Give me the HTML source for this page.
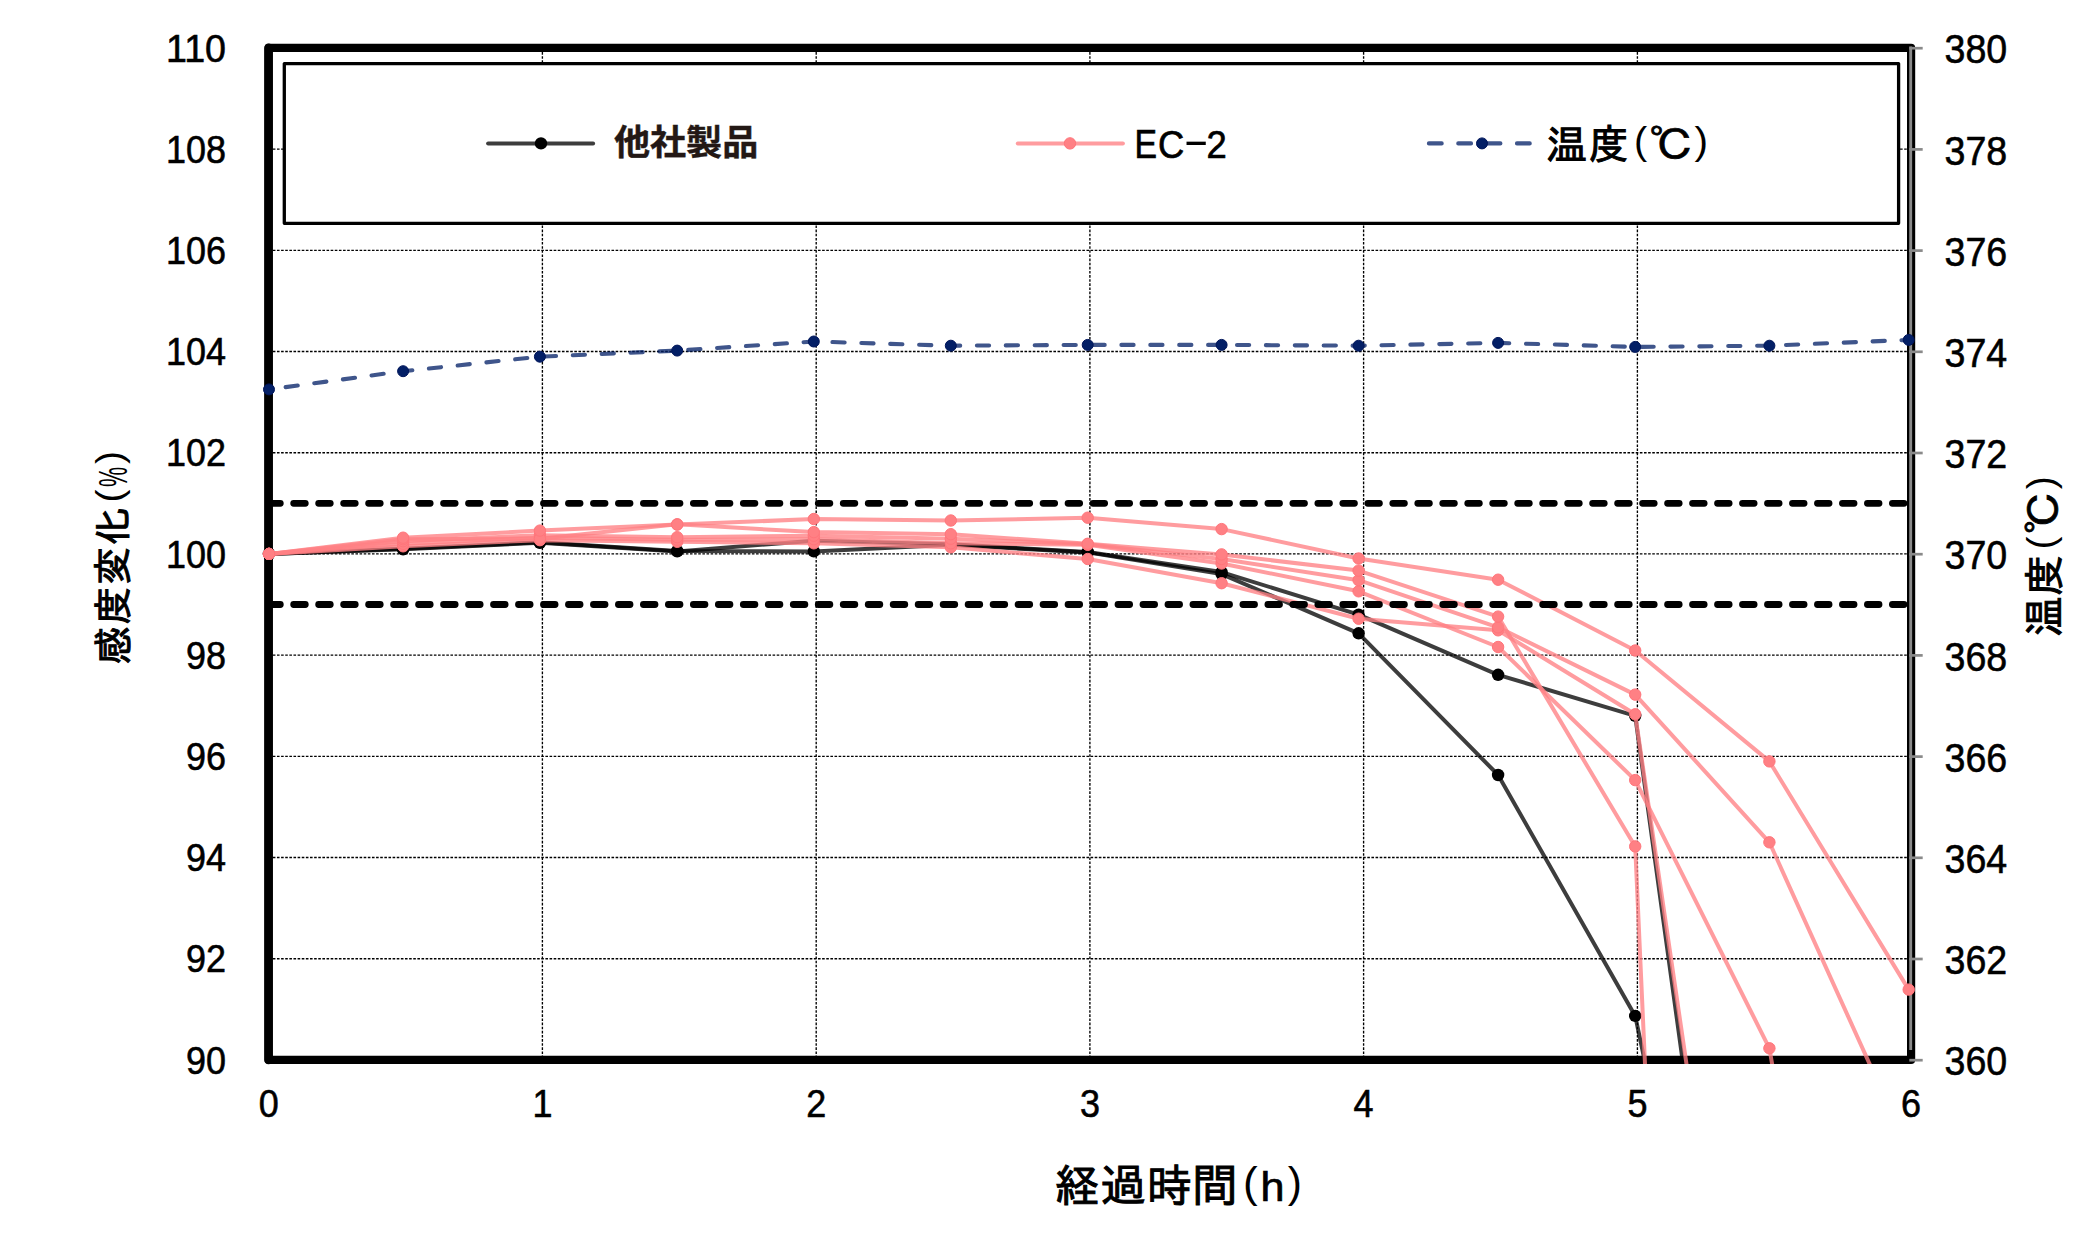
<!DOCTYPE html>
<html lang="ja"><head><meta charset="utf-8"><title>感度変化(%)・温度(℃) – 経過時間(h)</title>
<style>
html,body{margin:0;padding:0;background:#fff;}
body{width:2076px;height:1240px;overflow:hidden;}
svg{display:block;}
text{font-family:"Liberation Sans","IPAGothic","Noto Sans CJK JP",sans-serif;fill:#000;}
.tick{font-size:38.8px;stroke:#000;stroke-width:0.6px;}
.jp{font-family:"Liberation Sans","IPAGothic","Noto Sans CJK JP",sans-serif;}
.bold{font-family:"Liberation Sans","Noto Sans CJK JP",sans-serif;font-weight:700;fill:#231815;}
.grid line{stroke:#000;stroke-width:1.35;stroke-dasharray:2.6 1.53;}
.pl{fill:none;stroke:#ff8084;stroke-opacity:.78;stroke-width:4;stroke-linejoin:round;stroke-linecap:round;}
.bl{fill:none;stroke:#000;stroke-opacity:.76;stroke-width:4;stroke-linejoin:round;stroke-linecap:round;}
.pm{fill:#ff8084;stroke:#ff757b;stroke-width:1;}
.bm{fill:#000;}
.tm{fill:#031f66;stroke:#00155a;stroke-width:1;}
</style></head><body>
<svg width="2076" height="1240" viewBox="0 0 2076 1240">
<rect width="2076" height="1240" fill="#fff"/>
<defs><clipPath id="plot"><rect x="260.7" y="47.9" width="1658.4" height="1016.1"/></clipPath></defs>
<g class="grid">
<line x1="268.7" y1="149.1" x2="1911.1" y2="149.1"/>
<line x1="268.7" y1="250.3" x2="1911.1" y2="250.3"/>
<line x1="268.7" y1="351.5" x2="1911.1" y2="351.5"/>
<line x1="268.7" y1="452.7" x2="1911.1" y2="452.7"/>
<line x1="268.7" y1="553.9" x2="1911.1" y2="553.9"/>
<line x1="268.7" y1="655.1" x2="1911.1" y2="655.1"/>
<line x1="268.7" y1="756.3" x2="1911.1" y2="756.3"/>
<line x1="268.7" y1="857.5" x2="1911.1" y2="857.5"/>
<line x1="268.7" y1="958.7" x2="1911.1" y2="958.7"/>
<line x1="542.4" y1="47.9" x2="542.4" y2="1059.9"/>
<line x1="816.2" y1="47.9" x2="816.2" y2="1059.9"/>
<line x1="1089.9" y1="47.9" x2="1089.9" y2="1059.9"/>
<line x1="1363.6" y1="47.9" x2="1363.6" y2="1059.9"/>
<line x1="1637.4" y1="47.9" x2="1637.4" y2="1059.9"/>
</g>
<rect x="268.7" y="47.9" width="1642.4" height="1012" fill="none" stroke="#000" stroke-width="8.2" stroke-linejoin="round"/>
<line x1="268.5" y1="47.9" x2="268.5" y2="1059.9" stroke="#000" stroke-width="8.6" stroke-linecap="round"/>
<line x1="1910.7" y1="46.6" x2="1910.7" y2="1049.9" stroke="#8a8a8a" stroke-width="2.9"/>
<line x1="1909.3" y1="48.2" x2="1922.7" y2="48.2" stroke="#8a8a8a" stroke-width="2.7"/>
<line x1="1909.3" y1="149.4" x2="1922.7" y2="149.4" stroke="#8a8a8a" stroke-width="2.7"/>
<line x1="1909.3" y1="250.6" x2="1922.7" y2="250.6" stroke="#8a8a8a" stroke-width="2.7"/>
<line x1="1909.3" y1="351.8" x2="1922.7" y2="351.8" stroke="#8a8a8a" stroke-width="2.7"/>
<line x1="1909.3" y1="453" x2="1922.7" y2="453" stroke="#8a8a8a" stroke-width="2.7"/>
<line x1="1909.3" y1="554.2" x2="1922.7" y2="554.2" stroke="#8a8a8a" stroke-width="2.7"/>
<line x1="1909.3" y1="655.4" x2="1922.7" y2="655.4" stroke="#8a8a8a" stroke-width="2.7"/>
<line x1="1909.3" y1="756.6" x2="1922.7" y2="756.6" stroke="#8a8a8a" stroke-width="2.7"/>
<line x1="1909.3" y1="857.8" x2="1922.7" y2="857.8" stroke="#8a8a8a" stroke-width="2.7"/>
<line x1="1909.3" y1="959" x2="1922.7" y2="959" stroke="#8a8a8a" stroke-width="2.7"/>
<line x1="1909.3" y1="1060.2" x2="1922.7" y2="1060.2" stroke="#8a8a8a" stroke-width="2.7"/>
<rect x="284.3" y="63.6" width="1614.3" height="159.7" fill="#fff" stroke="#000" stroke-width="3.3" stroke-linejoin="round"/>
<g clip-path="url(#plot)">
<polyline class="bl" points="269,553.9 403.1,549.3 539.9,542.8 677.2,551.4 813.8,540.7 950.8,544.3 1087.7,551.9 1221.6,572.1 1358.6,614.6 1498.1,674.8 1635.2,715.8 1684.6,1075"/>
<polyline class="bl" points="269,553.9 403.1,548.8 539.9,542.3 677.2,550.9 813.8,551.4 950.8,544.8 1087.7,552.4 1221.6,574.1 1358.6,633.3 1498.1,775 1635.2,1015.9 1647.7,1075"/>
<circle class="bm" cx="269" cy="553.9" r="6.2"/>
<circle class="bm" cx="403.1" cy="549.3" r="6.2"/>
<circle class="bm" cx="539.9" cy="542.8" r="6.2"/>
<circle class="bm" cx="677.2" cy="551.4" r="6.2"/>
<circle class="bm" cx="813.8" cy="540.7" r="6.2"/>
<circle class="bm" cx="950.8" cy="544.3" r="6.2"/>
<circle class="bm" cx="1087.7" cy="551.9" r="6.2"/>
<circle class="bm" cx="1221.6" cy="572.1" r="6.2"/>
<circle class="bm" cx="1358.6" cy="614.6" r="6.2"/>
<circle class="bm" cx="1498.1" cy="674.8" r="6.2"/>
<circle class="bm" cx="1635.2" cy="715.8" r="6.2"/>
<circle class="bm" cx="269" cy="553.9" r="6.2"/>
<circle class="bm" cx="403.1" cy="548.8" r="6.2"/>
<circle class="bm" cx="539.9" cy="542.3" r="6.2"/>
<circle class="bm" cx="677.2" cy="550.9" r="6.2"/>
<circle class="bm" cx="813.8" cy="551.4" r="6.2"/>
<circle class="bm" cx="950.8" cy="544.8" r="6.2"/>
<circle class="bm" cx="1087.7" cy="552.4" r="6.2"/>
<circle class="bm" cx="1221.6" cy="574.1" r="6.2"/>
<circle class="bm" cx="1358.6" cy="633.3" r="6.2"/>
<circle class="bm" cx="1498.1" cy="775" r="6.2"/>
<circle class="bm" cx="1635.2" cy="1015.9" r="6.2"/>
<polyline class="pl" points="269,553.9 403.1,546.3 539.9,540.2 677.2,541.8 813.8,543.3 950.8,547.3 1087.7,559 1221.6,583.2 1358.6,618.7 1498.1,630.3 1635.2,714.3 1688.1,1075"/>
<circle class="pm" cx="269" cy="553.9" r="5.7"/>
<circle class="pm" cx="403.1" cy="546.3" r="5.7"/>
<circle class="pm" cx="539.9" cy="540.2" r="5.7"/>
<circle class="pm" cx="677.2" cy="541.8" r="5.7"/>
<circle class="pm" cx="813.8" cy="543.3" r="5.7"/>
<circle class="pm" cx="950.8" cy="547.3" r="5.7"/>
<circle class="pm" cx="1087.7" cy="559" r="5.7"/>
<circle class="pm" cx="1221.6" cy="583.2" r="5.7"/>
<circle class="pm" cx="1358.6" cy="618.7" r="5.7"/>
<circle class="pm" cx="1498.1" cy="630.3" r="5.7"/>
<circle class="pm" cx="1635.2" cy="714.3" r="5.7"/>
<polyline class="pl" points="269,553.9 403.1,543.8 539.9,537.7 677.2,539.7 813.8,539.2 950.8,543.3 1087.7,544.8 1221.6,563.5 1358.6,591.3 1498.1,647 1635.2,780.1 1769.4,1048.3 1774,1075"/>
<circle class="pm" cx="269" cy="553.9" r="5.7"/>
<circle class="pm" cx="403.1" cy="543.8" r="5.7"/>
<circle class="pm" cx="539.9" cy="537.7" r="5.7"/>
<circle class="pm" cx="677.2" cy="539.7" r="5.7"/>
<circle class="pm" cx="813.8" cy="539.2" r="5.7"/>
<circle class="pm" cx="950.8" cy="543.3" r="5.7"/>
<circle class="pm" cx="1087.7" cy="544.8" r="5.7"/>
<circle class="pm" cx="1221.6" cy="563.5" r="5.7"/>
<circle class="pm" cx="1358.6" cy="591.3" r="5.7"/>
<circle class="pm" cx="1498.1" cy="647" r="5.7"/>
<circle class="pm" cx="1635.2" cy="780.1" r="5.7"/>
<circle class="pm" cx="1769.4" cy="1048.3" r="5.7"/>
<polyline class="pl" points="269,553.9 403.1,541.2 539.9,535.2 677.2,537.2 813.8,535.7 950.8,538.7 1087.7,544.3 1221.6,559 1358.6,580.2 1498.1,627.3 1635.2,694.6 1769.4,842.3 1874.6,1075"/>
<circle class="pm" cx="269" cy="553.9" r="5.7"/>
<circle class="pm" cx="403.1" cy="541.2" r="5.7"/>
<circle class="pm" cx="539.9" cy="535.2" r="5.7"/>
<circle class="pm" cx="677.2" cy="537.2" r="5.7"/>
<circle class="pm" cx="813.8" cy="535.7" r="5.7"/>
<circle class="pm" cx="950.8" cy="538.7" r="5.7"/>
<circle class="pm" cx="1087.7" cy="544.3" r="5.7"/>
<circle class="pm" cx="1221.6" cy="559" r="5.7"/>
<circle class="pm" cx="1358.6" cy="580.2" r="5.7"/>
<circle class="pm" cx="1498.1" cy="627.3" r="5.7"/>
<circle class="pm" cx="1635.2" cy="694.6" r="5.7"/>
<circle class="pm" cx="1769.4" cy="842.3" r="5.7"/>
<polyline class="pl" points="269,553.9 403.1,539.2 539.9,538.7 677.2,524.3 813.8,532.1 950.8,534.2 1087.7,543.8 1221.6,554.4 1358.6,570.6 1498.1,616.6 1635.2,846.4 1645.5,1075"/>
<circle class="pm" cx="269" cy="553.9" r="5.7"/>
<circle class="pm" cx="403.1" cy="539.2" r="5.7"/>
<circle class="pm" cx="539.9" cy="538.7" r="5.7"/>
<circle class="pm" cx="677.2" cy="524.3" r="5.7"/>
<circle class="pm" cx="813.8" cy="532.1" r="5.7"/>
<circle class="pm" cx="950.8" cy="534.2" r="5.7"/>
<circle class="pm" cx="1087.7" cy="543.8" r="5.7"/>
<circle class="pm" cx="1221.6" cy="554.4" r="5.7"/>
<circle class="pm" cx="1358.6" cy="570.6" r="5.7"/>
<circle class="pm" cx="1498.1" cy="616.6" r="5.7"/>
<circle class="pm" cx="1635.2" cy="846.4" r="5.7"/>
<polyline class="pl" points="269,553.9 403.1,537.7 539.9,530.6 677.2,524.6 813.8,519 950.8,520.5 1087.7,517.7 1221.6,529.1 1358.6,558.5 1498.1,579.7 1635.2,650.5 1769.4,761.4 1908.7,989.6"/>
<circle class="pm" cx="269" cy="553.9" r="5.7"/>
<circle class="pm" cx="403.1" cy="537.7" r="5.7"/>
<circle class="pm" cx="539.9" cy="530.6" r="5.7"/>
<circle class="pm" cx="677.2" cy="524.6" r="5.7"/>
<circle class="pm" cx="813.8" cy="519" r="5.7"/>
<circle class="pm" cx="950.8" cy="520.5" r="5.7"/>
<circle class="pm" cx="1087.7" cy="517.7" r="5.7"/>
<circle class="pm" cx="1221.6" cy="529.1" r="5.7"/>
<circle class="pm" cx="1358.6" cy="558.5" r="5.7"/>
<circle class="pm" cx="1498.1" cy="579.7" r="5.7"/>
<circle class="pm" cx="1635.2" cy="650.5" r="5.7"/>
<circle class="pm" cx="1769.4" cy="761.4" r="5.7"/>
<circle class="pm" cx="1908.7" cy="989.6" r="5.7"/>
</g>
<line x1="268.7" y1="503.3" x2="1907.1" y2="503.3" stroke="#000" stroke-width="6.8" stroke-linecap="round" stroke-dasharray="11.6 13.38"/>
<line x1="268.7" y1="604.5" x2="1907.1" y2="604.5" stroke="#000" stroke-width="6.8" stroke-linecap="round" stroke-dasharray="11.6 13.38"/>
<polyline points="269,389.4 403.1,371.2 539.9,356.7 677.2,350.6 813.8,341.5 950.8,345.7 1087.7,344.9 1221.6,344.9 1358.6,345.7 1498.1,342.9 1635.2,346.9 1769.4,345.7 1908.7,339.9" fill="none" stroke="#031f66" stroke-opacity=".76" stroke-width="4.1" stroke-linecap="round" stroke-linejoin="round" stroke-dasharray="12.2 16.7" stroke-dashoffset="12.1"/>
<circle class="tm" cx="269" cy="389.4" r="5.5"/>
<circle class="tm" cx="403.1" cy="371.2" r="5.5"/>
<circle class="tm" cx="539.9" cy="356.7" r="5.5"/>
<circle class="tm" cx="677.2" cy="350.6" r="5.5"/>
<circle class="tm" cx="813.8" cy="341.5" r="5.5"/>
<circle class="tm" cx="950.8" cy="345.7" r="5.5"/>
<circle class="tm" cx="1087.7" cy="344.9" r="5.5"/>
<circle class="tm" cx="1221.6" cy="344.9" r="5.5"/>
<circle class="tm" cx="1358.6" cy="345.7" r="5.5"/>
<circle class="tm" cx="1498.1" cy="342.9" r="5.5"/>
<circle class="tm" cx="1635.2" cy="346.9" r="5.5"/>
<circle class="tm" cx="1769.4" cy="345.7" r="5.5"/>
<circle class="tm" cx="1908.7" cy="339.9" r="5.5"/>
<line x1="488.1" y1="143.4" x2="593.1" y2="143.4" class="bl"/>
<circle class="bm" cx="541" cy="143.4" r="6.2"/>
<text class="bold" x="613.9" y="155.3" font-size="35.3" stroke="#231815" stroke-width="0.4" textLength="144.4" lengthAdjust="spacingAndGlyphs">他社製品</text>
<line x1="1017.8" y1="143.4" x2="1122.9" y2="143.4" class="pl"/>
<circle class="pm" cx="1070" cy="143.4" r="5.7"/>
<text><tspan x="1134.38" y="157.65" font-size="39.83" textLength="22.52" lengthAdjust="spacingAndGlyphs" stroke="#000" stroke-width="0.7">E</tspan><tspan x="1158.11" y="157.66" font-size="39.69" textLength="26.23" lengthAdjust="spacingAndGlyphs" stroke="#000" stroke-width="0.7">C</tspan><tspan x="1182.99" y="155.47" font-size="42.24" textLength="26.33" lengthAdjust="spacingAndGlyphs">-</tspan><tspan x="1206.42" y="157.65" font-size="39.53" textLength="20.27" lengthAdjust="spacingAndGlyphs" stroke="#000" stroke-width="0.7">2</tspan></text>
<line x1="1428.9" y1="143.4" x2="1529.8" y2="143.4" stroke="#031f66" stroke-opacity=".76" stroke-width="4.1" stroke-linecap="round" stroke-dasharray="12.8 16.55"/>
<circle class="tm" cx="1482" cy="143.4" r="5.5"/>
<text class="jp"><tspan x="1546.02" y="159.17" font-size="40.16" textLength="41.36" lengthAdjust="spacingAndGlyphs" stroke="#000" stroke-width="1">温</tspan><tspan x="1589.01" y="159.35" font-size="40.89" textLength="40.26" lengthAdjust="spacingAndGlyphs" stroke="#000" stroke-width="1">度</tspan><tspan x="1634.04" y="154.09" font-size="38.21" textLength="13.19" lengthAdjust="spacingAndGlyphs">(</tspan><tspan x="1649.26" y="159.97" font-size="41.26" textLength="45.13" lengthAdjust="spacingAndGlyphs" stroke="#000" stroke-width="0.8">℃</tspan><tspan x="1694.46" y="154.09" font-size="38.21" textLength="13.56" lengthAdjust="spacingAndGlyphs">)</tspan></text>
<text class="tick" x="226" y="61.6" text-anchor="end" textLength="60" lengthAdjust="spacingAndGlyphs">110</text>
<text class="tick" style="font-size:41px" x="1944.5" y="63.3" text-anchor="start" textLength="62.7" lengthAdjust="spacingAndGlyphs">380</text>
<text class="tick" x="226" y="162.8" text-anchor="end" textLength="60" lengthAdjust="spacingAndGlyphs">108</text>
<text class="tick" style="font-size:41px" x="1944.5" y="164.5" text-anchor="start" textLength="62.7" lengthAdjust="spacingAndGlyphs">378</text>
<text class="tick" x="226" y="264" text-anchor="end" textLength="60" lengthAdjust="spacingAndGlyphs">106</text>
<text class="tick" style="font-size:41px" x="1944.5" y="265.7" text-anchor="start" textLength="62.7" lengthAdjust="spacingAndGlyphs">376</text>
<text class="tick" x="226" y="365.2" text-anchor="end" textLength="60" lengthAdjust="spacingAndGlyphs">104</text>
<text class="tick" style="font-size:41px" x="1944.5" y="366.9" text-anchor="start" textLength="62.7" lengthAdjust="spacingAndGlyphs">374</text>
<text class="tick" x="226" y="466.4" text-anchor="end" textLength="60" lengthAdjust="spacingAndGlyphs">102</text>
<text class="tick" style="font-size:41px" x="1944.5" y="468.1" text-anchor="start" textLength="62.7" lengthAdjust="spacingAndGlyphs">372</text>
<text class="tick" x="226" y="567.6" text-anchor="end" textLength="60" lengthAdjust="spacingAndGlyphs">100</text>
<text class="tick" style="font-size:41px" x="1944.5" y="569.3" text-anchor="start" textLength="62.7" lengthAdjust="spacingAndGlyphs">370</text>
<text class="tick" x="226" y="668.8" text-anchor="end" textLength="40" lengthAdjust="spacingAndGlyphs">98</text>
<text class="tick" style="font-size:41px" x="1944.5" y="670.5" text-anchor="start" textLength="62.7" lengthAdjust="spacingAndGlyphs">368</text>
<text class="tick" x="226" y="770" text-anchor="end" textLength="40" lengthAdjust="spacingAndGlyphs">96</text>
<text class="tick" style="font-size:41px" x="1944.5" y="771.7" text-anchor="start" textLength="62.7" lengthAdjust="spacingAndGlyphs">366</text>
<text class="tick" x="226" y="871.2" text-anchor="end" textLength="40" lengthAdjust="spacingAndGlyphs">94</text>
<text class="tick" style="font-size:41px" x="1944.5" y="872.9" text-anchor="start" textLength="62.7" lengthAdjust="spacingAndGlyphs">364</text>
<text class="tick" x="226" y="972.4" text-anchor="end" textLength="40" lengthAdjust="spacingAndGlyphs">92</text>
<text class="tick" style="font-size:41px" x="1944.5" y="974.1" text-anchor="start" textLength="62.7" lengthAdjust="spacingAndGlyphs">362</text>
<text class="tick" x="226" y="1073.6" text-anchor="end" textLength="40" lengthAdjust="spacingAndGlyphs">90</text>
<text class="tick" style="font-size:41px" x="1944.5" y="1075.3" text-anchor="start" textLength="62.7" lengthAdjust="spacingAndGlyphs">360</text>
<text class="tick" x="268.7" y="1116.6" text-anchor="middle" textLength="20" lengthAdjust="spacingAndGlyphs">0</text>
<text class="tick" x="542.4" y="1116.6" text-anchor="middle" textLength="20" lengthAdjust="spacingAndGlyphs">1</text>
<text class="tick" x="816.2" y="1116.6" text-anchor="middle" textLength="20" lengthAdjust="spacingAndGlyphs">2</text>
<text class="tick" x="1089.9" y="1116.6" text-anchor="middle" textLength="20" lengthAdjust="spacingAndGlyphs">3</text>
<text class="tick" x="1363.6" y="1116.6" text-anchor="middle" textLength="20" lengthAdjust="spacingAndGlyphs">4</text>
<text class="tick" x="1637.4" y="1116.6" text-anchor="middle" textLength="20" lengthAdjust="spacingAndGlyphs">5</text>
<text class="tick" x="1911.1" y="1116.6" text-anchor="middle" textLength="20" lengthAdjust="spacingAndGlyphs">6</text>
<text class="jp"><tspan x="1054.45" y="1201.97" font-size="44.80" textLength="45.17" lengthAdjust="spacingAndGlyphs" stroke="#000" stroke-width="1">経</tspan><tspan x="1100.14" y="1201.41" font-size="44.31" textLength="45.78" lengthAdjust="spacingAndGlyphs" stroke="#000" stroke-width="1">過</tspan><tspan x="1146.75" y="1201.97" font-size="44.89" textLength="45.04" lengthAdjust="spacingAndGlyphs" stroke="#000" stroke-width="1">時</tspan><tspan x="1191.90" y="1201.90" font-size="45.78" textLength="46.23" lengthAdjust="spacingAndGlyphs" stroke="#000" stroke-width="1">間</tspan><tspan x="1242.96" y="1196.54" font-size="42.29" textLength="14.70" lengthAdjust="spacingAndGlyphs">(</tspan><tspan x="1260.56" y="1200.65" font-size="41.54" textLength="23.99" lengthAdjust="spacingAndGlyphs" stroke="#000" stroke-width="0.7">h</tspan><tspan x="1287.65" y="1196.54" font-size="42.29" textLength="14.19" lengthAdjust="spacingAndGlyphs">)</tspan></text>
<text class="jp" transform="rotate(-90)"><tspan x="-664.88" y="127.64" font-size="40.17" textLength="38.77" lengthAdjust="spacingAndGlyphs" stroke="#000" stroke-width="1">感</tspan><tspan x="-624.51" y="127.39" font-size="39.02" textLength="38.34" lengthAdjust="spacingAndGlyphs" stroke="#000" stroke-width="1">度</tspan><tspan x="-584.49" y="127.17" font-size="39.62" textLength="37.38" lengthAdjust="spacingAndGlyphs" stroke="#000" stroke-width="1">変</tspan><tspan x="-545.69" y="127.16" font-size="38.26" textLength="38.74" lengthAdjust="spacingAndGlyphs" stroke="#000" stroke-width="1">化</tspan><tspan x="-502.41" y="122.40" font-size="36.71" textLength="12.94" lengthAdjust="spacingAndGlyphs">(</tspan><tspan x="-487.01" y="126.96" font-size="40.59" textLength="20.11" lengthAdjust="spacingAndGlyphs">%</tspan><tspan x="-464.13" y="122.40" font-size="36.71" textLength="13.06" lengthAdjust="spacingAndGlyphs">)</tspan></text>
<text class="jp" transform="rotate(-90)"><tspan x="-637.15" y="2058.98" font-size="41.57" textLength="40.80" lengthAdjust="spacingAndGlyphs" stroke="#000" stroke-width="1">温</tspan><tspan x="-595.74" y="2058.76" font-size="40.67" textLength="41.50" lengthAdjust="spacingAndGlyphs" stroke="#000" stroke-width="1">度</tspan><tspan x="-549.43" y="2053.83" font-size="38.96" textLength="13.06" lengthAdjust="spacingAndGlyphs">(</tspan><tspan x="-534.18" y="2059.37" font-size="41.26" textLength="44.06" lengthAdjust="spacingAndGlyphs" stroke="#000" stroke-width="0.8">℃</tspan><tspan x="-489.33" y="2053.83" font-size="38.96" textLength="13.06" lengthAdjust="spacingAndGlyphs">)</tspan></text>
</svg>
</body></html>
